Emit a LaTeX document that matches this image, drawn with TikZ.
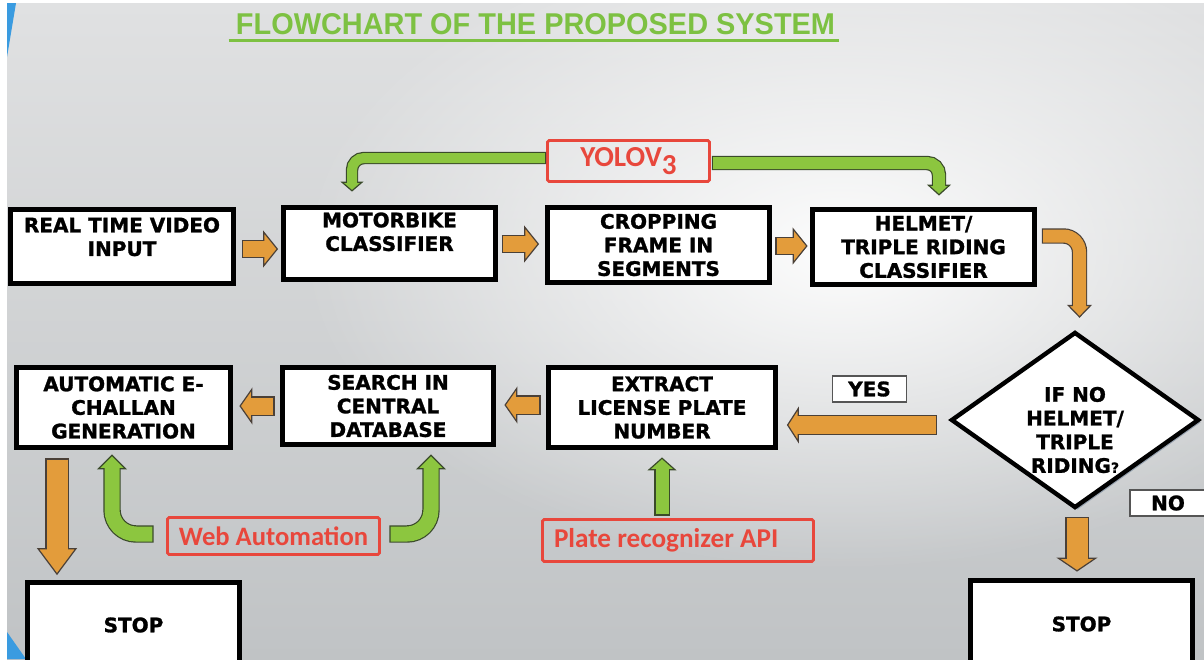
\documentclass[tikz,border=0pt]{standalone}
\usepackage{fontspec}
\setmainfont{DejaVu Sans}
\newfontfamily\boxf[BoldFeatures={FakeBold=1.3}]{DejaVu Sans}
\newfontfamily\redf{Carlito}
\newfontfamily\titlef{Liberation Sans}
\usepackage{graphicx}
\usetikzlibrary{calc,shapes.geometric,arrows.meta,shadows,fadings}
\definecolor{orangeF}{HTML}{E39C3B}
\definecolor{oLine}{HTML}{4A4038}
\definecolor{greenF}{HTML}{8CC63F}
\definecolor{gLine}{HTML}{3A4A2A}
\definecolor{titleG}{HTML}{7DC142}
\definecolor{redC}{HTML}{E8473C}
\definecolor{bgTop}{HTML}{E0E1E2}
\definecolor{bgBot}{HTML}{C0C3C5}
\definecolor{shadowC}{HTML}{7E8EA0}
\definecolor{blueC}{HTML}{3A9BE0}
\definecolor{lblLine}{HTML}{555555}
\tikzfading[name=glowfade, inner color=transparent!0, outer color=transparent!100]
\tikzset{
  box/.style={draw=black, line width=2.4pt, fill=white, align=center, inner sep=0pt,
    font=\boxf\bfseries\fontsize{10}{11.8}\selectfont,
    drop shadow={shadow xshift=1.2pt, shadow yshift=-1.2pt, fill=shadowC, opacity=0.7}},
  lbl/.style={draw=lblLine, line width=0.7pt, fill=white, inner sep=0pt,
    font=\boxf\bfseries\fontsize{10}{12}\selectfont, minimum width=36.8pt, minimum height=13pt},
  redbox/.style={draw=redC, line width=1.4pt, text=redC, inner sep=0pt, rounded corners=0.8pt,
    font=\redf\bfseries\fontsize{13.3}{15}\selectfont},
  oarr/.style n args={5}{draw=oLine, line width=#2,
    -{Triangle[width=#3, length=#4, fill=orangeF, line width=0.6pt]},
    postaction={draw=orangeF, line width=#1, arrows=-, shorten >=#5, shorten <=0.6pt}},
  garr/.style n args={5}{draw=gLine, line width=#2,
    -{Triangle[width=#3, length=#4, fill=greenF, line width=0.6pt]},
    postaction={draw=greenF, line width=#1, arrows=-, shorten >=#5, shorten <=0.6pt}},
}
\begin{document}
\begin{tikzpicture}[x=0.5pt,y=-0.5pt]
\useasboundingbox (0,0) rectangle (1204,659);
% background
\fill[white] (0,0) rectangle (1204,659);
\shade[top color=bgTop, bottom color=bgBot] (7,3) rectangle (1204,659);
\begin{scope}
  \clip (7,3) rectangle (1204,659);
  \fill[white, path fading=glowfade, fill opacity=0.95] (840,250) ellipse (540 and 320);
\end{scope}
\fill[blueC] (7,3) -- (16,3) -- (7,57) -- cycle;
\fill[blueC] (7,632) -- (26,659) -- (7,659) -- cycle;

% title
\node[inner sep=0pt, text=titleG, font=\titlef\bfseries] (title) at (535.5,24.5)
  {\resizebox{299.5pt}{10.5pt}{FLOWCHART OF THE PROPOSED SYSTEM}};
\draw[titleG, line width=1.3pt] ($(title.south west)+(-7,5)$) -- ($(title.south east)+(4,5)$);

% boxes
\node[box, minimum width=111.5pt, minimum height=37pt, text depth=9.8pt] (in) at (122,246.5) {REAL TIME VIDEO\\INPUT};
\node[box, minimum width=106pt, minimum height=36pt, text depth=11.8pt] (moto) at (389.5,243.5) {MOTORBIKE\\CLASSIFIER};
\node[box, minimum width=111pt, minimum height=37.5pt] (crop) at (658.5,245) {CROPPING\\FRAME IN\\SEGMENTS};
\node[box, minimum width=111pt, minimum height=37.5pt] (helm) at (923.5,247) {HELMET/\\TRIPLE RIDING\\CLASSIFIER};
\node[draw=black, line width=2.2pt, fill=white, diamond, aspect=1.4, inner sep=0pt,
  minimum width=124pt, minimum height=88pt,
  drop shadow={shadow xshift=1.2pt, shadow yshift=-1.2pt, fill=shadowC, opacity=0.7}] (dec) at (1075,420) {};
\node[align=center, inner sep=0pt, font=\boxf\bfseries\fontsize{10}{11.85}\selectfont] (decT) at (1075,430)
  {IF NO\\HELMET/\\TRIPLE\\RIDING{\fontsize{7}{7}\selectfont ?}};
\node[box, minimum width=113.5pt, minimum height=40pt] (ext) at (662,407.5) {EXTRACT\\LICENSE PLATE\\NUMBER};
\node[box, minimum width=105.5pt, minimum height=38.5pt] (srch) at (388,406) {SEARCH IN\\CENTRAL\\DATABASE};
\node[box, minimum width=107pt, minimum height=40pt] (chal) at (123.5,407.5) {AUTOMATIC E-\\CHALLAN\\GENERATION};
\node[box, minimum width=106pt, minimum height=42.5pt] (stop1) at (133.5,625) {STOP};
\node[box, minimum width=111pt, minimum height=43.5pt] (stop2) at (1081.5,624) {STOP};

% labels
\node[lbl] (yes) at (869.5,389) {YES};
\node[lbl, minimum width=38pt] (no) at (1168,503) {NO};
\node[redbox, minimum width=81pt, minimum height=20.5pt, font=\redf\bfseries\fontsize{14.5}{16}\selectfont] (yolo) at (628.5,161) {YOLOV\raisebox{-0.25em}{3}};
\node[redbox, minimum width=106pt, minimum height=18.5pt] (web) at (273.5,536) {Web Automation};
\node[redbox, minimum width=135.5pt, minimum height=21pt,
  font=\redf\bfseries\fontsize{13.6}{15}\selectfont] (plate) at (678,540.5) {\makebox[124pt][l]{Plate recognizer API}};

% orange arrows
\draw[oarr={8pt}{9.2pt}{18.5pt}{7.5pt}{6.5pt}] ($(in.east|-0,249)+(6,0)$) -- ($(moto.west|-0,249)+(-3,0)$);
\draw[oarr={8pt}{9.2pt}{18.5pt}{7.5pt}{6.5pt}] ($(moto.east|-0,244)+(4,0)$) -- ($(crop.west|-0,244)+(-6,0)$);
\draw[oarr={8pt}{9.2pt}{18.5pt}{7.5pt}{6.5pt}] ($(crop.east|-0,246)+(3.5,0)$) -- ($(helm.west|-0,246)+(-2.5,0)$);
\draw[oarr={6.5pt}{7.7pt}{12.5pt}{6.5pt}{5.5pt}, rounded corners=8pt] ($(helm.east)+(5,-11)$) -| ($(dec.north)+(4.5,-12)$);
\draw[oarr={9pt}{10.2pt}{18.5pt}{6pt}{5pt}] ($(dec.west)+(-12,5)$) -- ($(ext.east)+(9,17.5)$);
\draw[oarr={8.5pt}{9.7pt}{18.5pt}{6.5pt}{5.5pt}] ($(ext.west|-0,405)+(-5.5,0)$) -- ($(srch.east|-0,405)+(8.5,0)$);
\draw[oarr={8.5pt}{9.7pt}{18.5pt}{6.5pt}{5.5pt}] ($(srch.west|-0,406)+(-5.5,0)$) -- ($(chal.east|-0,406)+(6.5,0)$);
\draw[oarr={10.5pt}{11.7pt}{20pt}{13.5pt}{12.5pt}] ($(chal.south)+(-66.5,8.5)$) -- ($(stop1.north)+(-76.5,-5)$);
\draw[oarr={10.5pt}{11.7pt}{20.5pt}{7pt}{6pt}] ($(dec.south)+(2,7)$) -- ($(stop2.north)+(-4.5,-6.5)$);

% green arrows
\draw[garr={5pt}{6.2pt}{11.5pt}{5pt}{4pt}, rounded corners=6pt] ($(yolo.west)+(0,-3)$) -| ($(moto.north)+(-37.5,-13.5)$);
\draw[garr={6pt}{7.2pt}{12pt}{5.5pt}{4.5pt}, rounded corners=6pt] ($(yolo.east)+(1,2)$) -| ($(helm.north)+(15.5,-11.5)$);
\draw[garr={7.5pt}{8.7pt}{15pt}{7.5pt}{6.5pt}, rounded corners=12pt] ($(web.west)+(-12.5,-2)$) -| ($(chal.south)+(-11.5,4.5)$);
\draw[garr={7.5pt}{8.7pt}{15pt}{7.5pt}{6.5pt}, rounded corners=12pt] ($(web.east)+(8.5,-2)$) -| ($(srch.south)+(43,7.5)$);
\draw[garr={6.5pt}{7.7pt}{14.5pt}{6.5pt}{5.5pt}] ($(plate.north)+(-16,-2.5)$) -- ($(ext.south)+(0,7.5)$);
\end{tikzpicture}
\end{document}
